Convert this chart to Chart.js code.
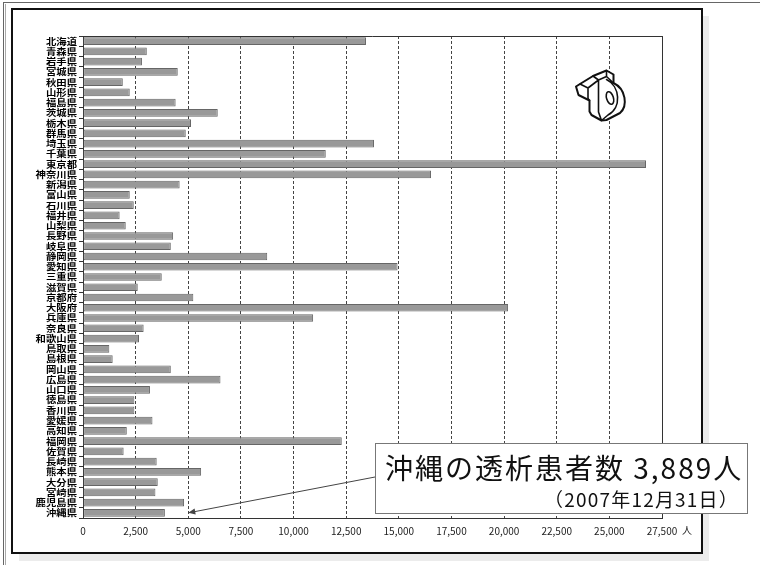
<!DOCTYPE html>
<html lang="ja">
<head>
<meta charset="utf-8">
<title>都道府県別 透析患者数</title>
<script src="https://cdn.jsdelivr.net/npm/chart.js@4/dist/chart.umd.min.js"></script>
<style>
  html, body { margin: 0; padding: 0; background: #fff; }
  body { width: 760px; height: 565px; position: relative; overflow: hidden; }
  .outer { position: absolute; left: 3px; top: 2px; width: 800px; height: 600px; border: 1px solid #666; box-sizing: border-box; }
  .outer2 { position: absolute; left: 5px; top: 4px; width: 1px; height: 600px; background: #aaa; }
  .shadow { position: absolute; left: 19px; top: 16px; width: 690px; height: 545px; background: #ececec; }
  .frame { position: absolute; left: 11px; top: 8px; width: 692px; height: 546px; border: 2px solid #111; box-sizing: border-box; background: #fff; }
  canvas { position: absolute; left: 0; top: 0; }
</style>
</head>
<body>
<div class="outer"></div>
<div class="outer2"></div>
<div class="shadow"></div>
<div class="frame"></div>
<canvas id="chart" width="760" height="565"></canvas>
<script>
// 都道府県
const prefectures = [
  '北海道', '青森県', '岩手県', '宮城県', '秋田県', '山形県', '福島県',
  '茨城県', '栃木県', '群馬県', '埼玉県', '千葉県', '東京都', '神奈川県',
  '新潟県', '富山県', '石川県', '福井県', '山梨県', '長野県', '岐阜県',
  '静岡県', '愛知県', '三重県', '滋賀県', '京都府', '大阪府', '兵庫県',
  '奈良県', '和歌山県', '鳥取県', '島根県', '岡山県', '広島県', '山口県',
  '徳島県', '香川県', '愛媛県', '高知県', '福岡県', '佐賀県', '長崎県',
  '熊本県', '大分県', '宮崎県', '鹿児島県', '沖縄県'
];

// 透析患者数（人）
const patients = [
  13440, 3030, 2800, 4500, 1890, 2220, 4400,
  6400, 5130, 4880, 13820, 11530, 26740, 16530,
  4590, 2220, 2410, 1740, 2030, 4280, 4170,
  8750, 14940, 3740, 2600, 5240, 20190, 10930,
  2880, 2660, 1250, 1410, 4170, 6530, 3180,
  2440, 2440, 3300, 2080, 12290, 1930, 3500,
  5610, 3550, 3440, 4800, 3889
];

// 横軸の目盛り
const axisMax = 27500;
const axisStep = 2500;
const axisUnit = '人';

// 注記
const calloutTitle = '沖縄の透析患者数 3,889人';
const calloutDate = '（2007年12月31日）';
const calloutTarget = '沖縄県';
const calloutPointValue = 5000;

const JP_FONT = '"Noto Sans CJK JP", "Noto Sans", sans-serif';
const LABEL_STRETCH = 1.15;   // 県名ラベルの横長書体

// 県名ラベルを横長に描く（右端を基準に横方向へ伸ばす）
const wideLabels = {
  id: 'wideLabels',
  beforeDraw(chart) {
    const scale = chart.scales.y;
    if (!scale || scale._wideLabels) return;
    const orig = scale.drawLabels.bind(scale);
    scale.drawLabels = function (area) {
      const ctx = this.ctx;
      const anchor = this.right - this.options.grid.tickLength - this.options.ticks.padding;
      ctx.save();
      ctx.translate(anchor, 0);
      ctx.scale(LABEL_STRETCH, 1);
      ctx.translate(-anchor, 0);
      orig(area);
      ctx.restore();
    };
    scale._wideLabels = true;
  }
};

// 枠線・単位・注記・ロゴを描くプラグイン
const decorations = {
  id: 'decorations',
  afterDatasetsDraw(chart) {
    const { ctx, chartArea } = chart;
    ctx.save();
    ctx.strokeStyle = '#333';
    ctx.lineWidth = 1;
    ctx.beginPath();
    ctx.moveTo(chartArea.left, chartArea.top + 0.5);
    ctx.lineTo(chartArea.right + 0.5, chartArea.top + 0.5);
    ctx.lineTo(chartArea.right + 0.5, chartArea.bottom);
    ctx.stroke();
    ctx.restore();
  },
  afterDraw(chart) {
    const { ctx, scales } = chart;
    const x = scales.x, y = scales.y;

    // 単位
    ctx.save();
    ctx.fillStyle = '#222';
    ctx.font = '10px ' + JP_FONT;
    ctx.textBaseline = 'middle';
    ctx.textAlign = 'left';
    ctx.fillText(axisUnit, x.right + 20, 530);
    ctx.restore();

    // ロゴ
    drawLogo(ctx);

    // 注記の矢印
    const tipX = x.getPixelForValue(calloutPointValue);
    const tipY = y.getPixelForValue(prefectures.indexOf(calloutTarget));
    const boxL = 375, boxT = 443, boxR = 748, boxB = 514;
    const startX = boxL, startY = 477;
    ctx.save();
    ctx.strokeStyle = '#444';
    ctx.fillStyle = '#444';
    ctx.lineWidth = 1;
    ctx.beginPath();
    ctx.moveTo(startX, startY);
    ctx.lineTo(tipX, tipY);
    ctx.stroke();
    const ang = Math.atan2(tipY - startY, tipX - startX);
    const hl = 7, hw = 3;
    ctx.beginPath();
    ctx.moveTo(tipX, tipY);
    ctx.lineTo(tipX - hl * Math.cos(ang) + hw * Math.sin(ang), tipY - hl * Math.sin(ang) - hw * Math.cos(ang));
    ctx.lineTo(tipX - hl * Math.cos(ang) - hw * Math.sin(ang), tipY - hl * Math.sin(ang) + hw * Math.cos(ang));
    ctx.closePath();
    ctx.fill();

    // 注記の枠
    ctx.fillStyle = '#fff';
    ctx.fillRect(boxL, boxT, boxR - boxL, boxB - boxT);
    ctx.strokeStyle = '#777';
    ctx.strokeRect(boxL + 0.5, boxT + 0.5, boxR - boxL - 1, boxB - boxT - 1);

    ctx.fillStyle = '#111';
    ctx.textBaseline = 'middle';
    ctx.textAlign = 'left';
    ctx.font = '28px ' + JP_FONT;
    ctx.letterSpacing = '2px';
    ctx.fillText(calloutTitle, 385, 468);
    ctx.textAlign = 'right';
    ctx.font = '19px ' + JP_FONT;
    ctx.letterSpacing = '1.2px';
    ctx.fillText(calloutDate, 739, 500);
    ctx.restore();
  }
};

// 立体文字のロゴ
function drawLogo(ctx) {
  ctx.save();
  ctx.strokeStyle = '#111';
  ctx.fillStyle = '#fff';
  ctx.lineWidth = 2;
  ctx.lineJoin = 'round';
  ctx.lineCap = 'round';
  // 外形
  ctx.beginPath();
  ctx.moveTo(593, 76);
  ctx.lineTo(606.5, 70.5);
  ctx.lineTo(613.5, 74.5);
  ctx.lineTo(613.5, 83);
  ctx.bezierCurveTo(626, 89, 628, 106, 620, 113);
  ctx.lineTo(606.5, 120);
  ctx.lineTo(601.5, 120.5);
  ctx.lineTo(591.5, 115);
  ctx.lineTo(589.5, 111.5);
  ctx.lineTo(589.5, 100.5);
  ctx.lineTo(578.5, 95);
  ctx.lineTo(576, 86.5);
  ctx.lineTo(580, 84);
  ctx.closePath();
  ctx.fill();
  ctx.stroke();
  // 面の稜線
  ctx.lineWidth = 1.6;
  ctx.beginPath();
  ctx.moveTo(580, 84);
  ctx.lineTo(588, 88);
  ctx.lineTo(598.5, 80);
  ctx.lineTo(593, 76);
  ctx.moveTo(588, 88);
  ctx.lineTo(588, 98.5);
  ctx.lineTo(589.5, 100.5);
  ctx.moveTo(598.5, 80);
  ctx.lineTo(598.5, 112);
  ctx.lineTo(601.5, 120.5);
  ctx.moveTo(598.5, 80);
  ctx.lineTo(606.5, 76.5);
  ctx.lineTo(613.5, 83);
  ctx.moveTo(606.5, 76.5);
  ctx.lineTo(606.5, 70.5);
  ctx.moveTo(606.5, 79.5);
  ctx.bezierCurveTo(620, 86, 622, 108, 608, 115);
  ctx.lineTo(601.5, 120.5);
  ctx.stroke();
  // 内側の穴
  ctx.beginPath();
  ctx.ellipse(610, 98, 3.4, 6.5, -0.3, 0, Math.PI * 2);
  ctx.stroke();
  ctx.restore();
}

new Chart(document.getElementById('chart'), {
  type: 'bar',
  data: {
    labels: prefectures,
    datasets: [{
      data: patients,
      backgroundColor: '#999999',
      borderColor: '#666666',
      borderWidth: 1,
      borderSkipped: false,
      barPercentage: 0.75,
      categoryPercentage: 1.0
    }]
  },
  options: {
    indexAxis: 'y',
    responsive: false,
    animation: false,
    devicePixelRatio: 1,
    layout: { padding: { left: 0, top: 36, right: 98, bottom: 17 } },
    plugins: {
      legend: { display: false },
      tooltip: { enabled: false }
    },
    scales: {
      x: {
        min: 0,
        max: axisMax,
        afterFit(scale) { scale.height = 30; },
        ticks: {
          stepSize: axisStep,
          padding: 7,
          color: '#222',
          font: { family: JP_FONT, size: 10 },
          callback: (v) => v.toLocaleString('en-US')
        },
        grid: { color: '#444', lineWidth: 1, drawTicks: false },
        border: { display: true, color: '#333', width: 1, dash: [3, 2] }
      },
      y: {
        afterFit(scale) { scale.width = 83; },
        ticks: {
          padding: 2,
          color: '#000',
          autoSkip: false,
          font: { family: JP_FONT, size: 9, weight: 'bold' }
        },
        grid: { drawOnChartArea: false, drawTicks: true, tickLength: 4, color: '#333', offset: true },
        border: { display: true, color: '#333', width: 1 }
      }
    }
  },
  plugins: [wideLabels, decorations]
});
</script>
</body>
</html>
